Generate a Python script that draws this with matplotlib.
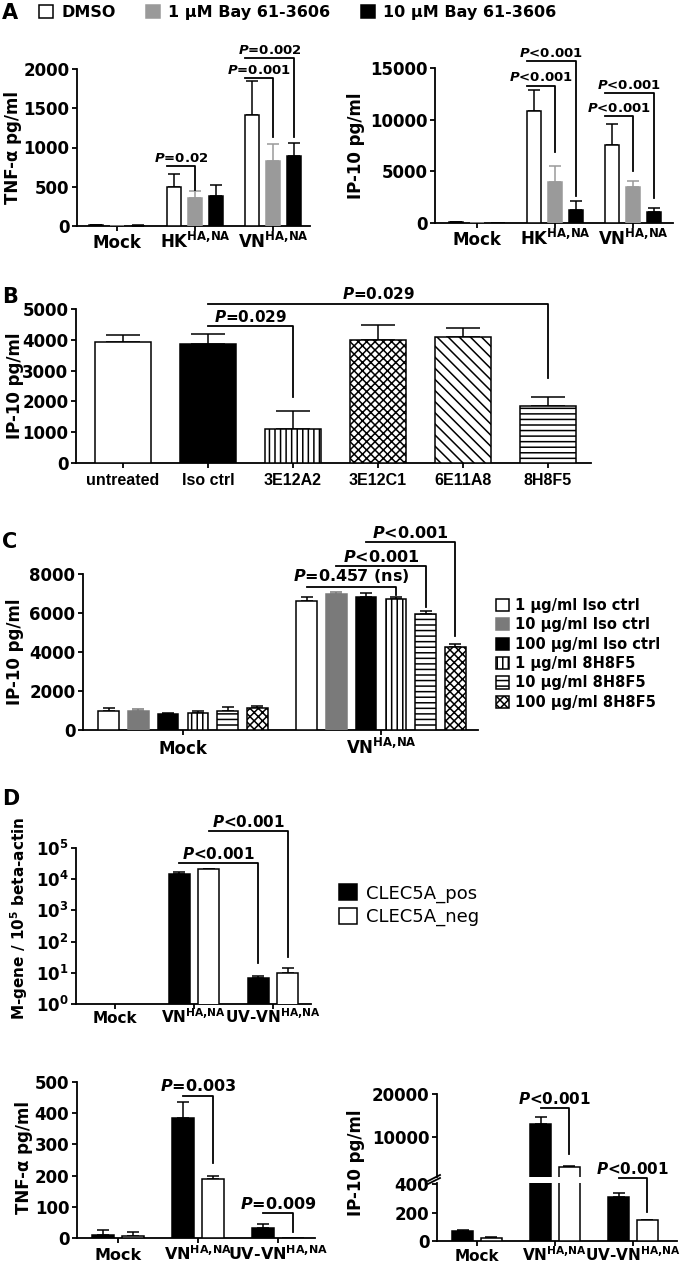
import numpy as np
import matplotlib
matplotlib.use('Agg')
import matplotlib.pyplot as plt
from matplotlib.patches import Patch
from matplotlib import font_manager

# ---- data ----
# A: TNF-alpha and IP-10, groups Mock / HK / VN
a_groups = ['Mock', r'HK$^{\mathrm{HA{,}NA}}$', r'VN$^{\mathrm{HA{,}NA}}$']
a_series = ['DMSO', '1 µM Bay 61-3606', '10 µM Bay 61-3606']
a_tnf = [[10, 495, 1415], [4, 355, 822], [5, 380, 890]]
a_tnf_sem = [[5, 165, 430], [2, 90, 223], [2, 145, 165]]
a_ip10 = [[100, 10870, 7580], [0, 3935, 3480], [0, 1225, 1065]]
a_ip10_sem = [[30, 1970, 2030], [0, 1615, 620], [0, 875, 385]]
# brackets: (group, series_from, series_to, y_line, y_drop, label)
a_tnf_p = [(1, 0, 1, 763, 453, '=0.02'), (2, 0, 1, 1886, 1131, '=0.001'),
           (2, 0, 2, 2136, 1131, '=0.002')]
a_ip10_p = [(1, 0, 1, 13290, 6840, '<0.001'), (1, 0, 2, 15650, 2650, '<0.001'),
            (2, 0, 1, 10320, 5000, '<0.001'), (2, 0, 2, 12580, 2420, '<0.001')]

# B: IP-10 with antibodies
b_cats = ['untreated', 'Iso ctrl', '3E12A2', '3E12C1', '6E11A8', '8H8F5']
b_vals = [3913, 3859, 1109, 4000, 4076, 1848]
b_sem = [250, 326, 576, 490, 304, 304]
b_p = [(1, 2, 4435, 2152, '=0.029'), (1, 5, 5174, 2750, '=0.029')]

# C: IP-10, antibody doses
c_groups = ['Mock', r'VN$^{\mathrm{HA{,}NA}}$']
c_series = ['1 µg/ml Iso ctrl', '10 µg/ml Iso ctrl', '100 µg/ml Iso ctrl',
            '1 µg/ml 8H8F5', '10 µg/ml 8H8F5', '100 µg/ml 8H8F5']
c_mock = [967, 967, 800, 867, 950, 1133]
c_mock_sem = [150, 116, 83, 116, 217, 100]
c_vn = [6620, 7000, 6830, 6725, 5930, 4240]
c_vn_sem = [210, 86, 205, 105, 170, 174]
c_p = [(0, 3, 7345, 6914, '=0.457 (ns)'), (1, 4, 8414, 6300, '<0.001'),
       (2, 5, 9620, 4800, '<0.001')]

# D: CLEC5A pos / neg cells
d_groups = ['Mock', r'VN$^{\mathrm{HA{,}NA}}$', r'UV-VN$^{\mathrm{HA{,}NA}}$']
d_series = ['CLEC5A_pos', 'CLEC5A_neg']
d_mgene_pos = [np.nan, 14800, 7.0]
d_mgene_pos_sem = [0, 1900, 1.1]
d_mgene_neg = [np.nan, 21000, 10]
d_mgene_neg_sem = [0, 500, 4.6]
d_mgene_p = [(1, 0, 2, 0, 32400, 20), (1, 1, 2, 1, 340000, 33)]
d_tnf_pos = [11, 385, 32]
d_tnf_pos_sem = [14, 50, 14]
d_tnf_neg = [5, 189, 0]
d_tnf_neg_sem = [15, 9, 0]
d_tnf_p = [(1, 456, 239, '=0.003'), (2, 80, 19, '=0.009')]
d_ip_pos = [71, 13080, 312]
d_ip_pos_sem = [9, 1690, 24]
d_ip_neg = [24, 3080, 147]
d_ip_neg_sem = [4, 250, 4]


def pick_font(names):
    for n in names:
        try:
            font_manager.findfont(font_manager.FontProperties(family=n),
                                  fallback_to_default=False)
            return n
        except Exception:
            pass
    return 'DejaVu Sans'


narrow = pick_font(['Liberation Sans Narrow', 'DejaVu Sans Condensed', 'Liberation Sans'])

plt.rcParams.update({
    'font.family': 'DejaVu Sans',
    'font.weight': 'bold',
    'axes.labelweight': 'bold',
    'axes.linewidth': 1.3,
    'hatch.linewidth': 1.1,
    'mathtext.fontset': 'dejavusans',
})

W, H = 680, 1263
fig = plt.figure(figsize=(W / 100, H / 100), dpi=100)
GREY_A = '#9a9a9a'
GREY_C = '#7a7a7a'
P = r'$\mathbfit{P}$'


def px_axes(box):
    l, t, r, b = box
    ax = fig.add_axes([l / W, 1 - b / H, (r - l) / W, (b - t) / H])
    ax.set_facecolor('none')
    return ax


def style(ax, box, c0, step):
    for s in ('top', 'right'):
        ax.spines[s].set_visible(False)
    ax.tick_params(direction='out', length=3.5, width=1.3, labelsize=12, pad=2)
    l, t, r, b = box
    ax.set_xlim((l - c0) / step, (r - c0) / step)


def xlabels(ax, ticks, labels, pad, fs=12):
    # baseline-aligned group names, so superscripts do not push the base down
    ax.set_xticks(ticks)
    ax.set_xticklabels(labels, fontsize=fs, va='baseline')
    ax.tick_params(axis='x', pad=pad)


def ylab(ax, text, box, px, py, fs=12):
    l, t, r, b = box
    ax.set_ylabel(text, fontsize=fs)
    ax.yaxis.set_label_coords((px - l) / (r - l), (b - py) / (b - t))


def bars(ax, x, vals, sems, width, face, edge='black', hatch=None, ecol='black', cap=4):
    x = np.asarray(x, float)
    vals = np.asarray(vals, float)
    sems = np.asarray(sems, float)
    ok = ~np.isnan(vals)
    ax.bar(x[ok], vals[ok], width, color=face, edgecolor=edge, linewidth=1.1,
           hatch=hatch, zorder=3)
    m = ok & (sems > 0)
    ax.errorbar(x[m], vals[m], yerr=[np.zeros(m.sum()), sems[m]], fmt='none',
                ecolor=ecol, elinewidth=1.1, capsize=cap, capthick=1.1, zorder=2)


def bracket(ax, x0, x1, yh, yd, text, fs):
    ax.plot([x0, x1, x1], [yh, yh, yd], color='black', lw=1.3, clip_on=False, zorder=5)
    ax.annotate(P + text, ((x0 + x1) / 2, yh), xytext=(0, 1), textcoords='offset points',
                ha='center', va='bottom', fontsize=fs, annotation_clip=False, zorder=6)


# ---------------- panel A ----------------
a_cols = [('white', 'black', 'black'), (GREY_A, GREY_A, GREY_A), ('black', 'black', 'black')]
a_w, a_off = 0.19, 0.27
xg = np.arange(3)
for box, vals, sems, pvals, ticks, lab, lpx, c0 in [
        ((77, 69, 310, 226), a_tnf, a_tnf_sem, a_tnf_p, [0, 500, 1000, 1500, 2000],
         'TNF-α pg/ml', 22, 117),
        ((435, 68, 673, 223), a_ip10, a_ip10_sem, a_ip10_p, [0, 5000, 10000, 15000],
         'IP-10 pg/ml', 365, 477)]:
    ax = px_axes(box)
    style(ax, box, c0, 78)
    for i in range(3):
        fc, ec, erc = a_cols[i]
        bars(ax, xg + (i - 1) * a_off, vals[i], sems[i], a_w, fc, ec, ecol=erc, cap=4.5)
    ax.set_ylim(ticks[0], ticks[-1])
    ax.set_yticks(ticks)
    xlabels(ax, xg, a_groups, 12.5)
    ylab(ax, lab, box, lpx, (box[1] + box[3]) / 2)
    for g, s0, s1, yh, yd, t in pvals:
        bracket(ax, g + (s0 - 1) * a_off - a_w / 2, g + (s1 - 1) * a_off, yh, yd, t, 9.5)

fig.legend([Patch(facecolor=f, edgecolor=e, linewidth=1.1) for f, e, _ in a_cols], a_series,
           loc='upper left', bbox_to_anchor=(39 / W, 1 - 5 / H), ncol=3, frameon=False,
           fontsize=11.5, handlelength=0.9, handleheight=0.9, handletextpad=0.5,
           columnspacing=1.9, borderaxespad=0, borderpad=0)

# ---------------- panel B ----------------
box = (76, 309, 591, 463)
ax = px_axes(box)
style(ax, box, 123, 85)
xb = np.arange(len(b_cats))
b_face = ['white', 'black', 'white', 'white', 'white', 'white']
b_hatch = [None, None, '|||', 'xxxx', '\\\\\\', '---']
for i in range(len(b_cats)):
    bars(ax, [xb[i]], [b_vals[i]], [b_sem[i]], 0.66, b_face[i], hatch=b_hatch[i], cap=12)
ax.set_ylim(0, 5000)
ax.set_yticks(range(0, 5001, 1000))
ax.set_xticks(xb)
ax.set_xticklabels(b_cats, fontfamily=narrow, fontsize=11.5)
ax.tick_params(axis='x', pad=4)
ylab(ax, 'IP-10 pg/ml', box, 24, 386)
for s0, s1, yh, yd, t in b_p:
    bracket(ax, xb[s0], xb[s1], yh, yd, t, 11)

# ---------------- panel C ----------------
box = (83, 574, 478, 730)
ax = px_axes(box)
style(ax, box, 183, 198)
c_style = [('white', 'black', None, 'black'), (GREY_C, GREY_C, None, GREY_C),
           ('black', 'black', None, 'black'), ('white', 'black', '|||', 'black'),
           ('white', 'black', '---', 'black'), ('white', 'black', 'xxxx', 'black')]
c_w, c_step = 0.104, 0.15
xc = np.arange(2)
for i in range(6):
    fc, ec, hh, erc = c_style[i]
    bars(ax, xc + (i - 2.5) * c_step, [c_mock[i], c_vn[i]], [c_mock_sem[i], c_vn_sem[i]],
         c_w, fc, ec, hatch=hh, ecol=erc, cap=4.5)
ax.set_ylim(0, 8000)
ax.set_yticks(range(0, 8001, 2000))
xlabels(ax, xc, c_groups, 13.5)
ylab(ax, 'IP-10 pg/ml', box, 24, 652)
for s0, s1, yh, yd, t in c_p:
    bracket(ax, 1 + (s0 - 2.5) * c_step, 1 + (s1 - 2.5) * c_step, yh, yd, t, 11.5)
fig.legend([Patch(facecolor=fc, edgecolor=ec, hatch=hh, linewidth=1.1)
            for fc, ec, hh, _ in c_style], c_series,
           loc='upper left', bbox_to_anchor=(496 / W, 1 - 598 / H), frameon=False,
           fontsize=10.5, handlelength=0.9, handleheight=0.9, handletextpad=0.4,
           labelspacing=0.3, borderaxespad=0, borderpad=0)

# ---------------- panel D ----------------
d_w, d_off = 0.27, 0.185
xd = np.arange(3)
d_cols = [('black', 'black'), ('white', 'black')]

box = (76, 848, 311, 1004)
ax = px_axes(box)
style(ax, box, 115, 79)
ax.set_yscale('log')
bars(ax, xd - d_off, d_mgene_pos, d_mgene_pos_sem, d_w, 'black', cap=4)
bars(ax, xd + d_off, d_mgene_neg, d_mgene_neg_sem, d_w, 'white', cap=4)
ax.set_ylim(1, 1e5)
ax.set_yticks([10 ** k for k in range(6)])
ax.set_yticklabels([r'$\mathbf{10^{%d}}$' % k for k in range(6)])
ax.yaxis.set_minor_locator(matplotlib.ticker.NullLocator())
xlabels(ax, xd, d_groups, 10.5, fs=11)
ylab(ax, r'M-gene / 10$^{\mathbf{5}}$ beta-actin', box, 30, 918, fs=11)
for g0, s0, g1, s1, yh, yd in d_mgene_p:
    x0 = g0 + (2 * s0 - 1) * d_off
    x1 = g1 + (2 * s1 - 1) * d_off
    bracket(ax, x0, x1, yh, yd, '<0.001', 11)
fig.legend([Patch(facecolor=f, edgecolor=e, linewidth=1.1) for f, e in d_cols], d_series,
           loc='upper left', bbox_to_anchor=(339 / W, 1 - 884 / H), frameon=False,
           prop={'weight': 'normal', 'size': 13}, handlelength=1.0, handleheight=1.0,
           handletextpad=0.5, labelspacing=0.3, borderaxespad=0, borderpad=0)

# D bottom left: TNF-alpha
box = (77, 1082, 315, 1238)
ax = px_axes(box)
style(ax, box, 118, 80)
bars(ax, xd - d_off, d_tnf_pos, d_tnf_pos_sem, d_w, 'black', cap=4.5)
bars(ax, xd + d_off, d_tnf_neg, d_tnf_neg_sem, d_w, 'white', cap=4.5)
ax.set_ylim(0, 500)
ax.set_yticks(range(0, 501, 100))
xlabels(ax, xd, d_groups, 12, fs=11.5)
ylab(ax, 'TNF-α pg/ml', box, 33, 1157)
for g, yh, yd, t in d_tnf_p:
    bracket(ax, g - d_off, g + d_off, yh, yd, t, 11.5)

# D bottom right: IP-10 with broken axis
box_lo = (437, 1183, 677, 1241)
box_hi = (437, 1094, 677, 1177)
ax_lo = px_axes(box_lo)
ax_hi = px_axes(box_hi)
for a, bx in ((ax_lo, box_lo), (ax_hi, box_hi)):
    style(a, bx, 477, 78)
    bars(a, xd - d_off, d_ip_pos, d_ip_pos_sem, d_w, 'black', cap=4.5)
    bars(a, xd + d_off, d_ip_neg, d_ip_neg_sem, d_w, 'white', cap=4.5)
ax_lo.set_ylim(0, 410)
ax_lo.set_yticks([0, 200, 400])
ax_hi.set_ylim(770, 20000)
ax_hi.set_yticks([10000, 20000])
ax_hi.spines['bottom'].set_visible(False)
ax_hi.tick_params(axis='x', bottom=False, labelbottom=False)
xlabels(ax_lo, xd, d_groups, 11, fs=11)
ylab(ax_lo, 'IP-10 pg/ml', box_lo, 365, 1163)
kw = dict(color='black', lw=1.3, clip_on=False)
ax_hi.plot([-9 / 240, 3 / 240], [-4 / 83, 2 / 83], transform=ax_hi.transAxes, **kw)
ax_lo.plot([-9 / 240, 3 / 240], [1 - 1 / 58, 1 + 5 / 58], transform=ax_lo.transAxes, **kw)
bracket(ax_hi, 1 - d_off, 1 + d_off, 16700, 6150, '<0.001', 11)
bracket(ax_lo, 2 - d_off, 2 + d_off, 443, 206, '<0.001', 11)

# panel letters
for letter, y in [('A', 3), ('B', 287), ('C', 532), ('D', 789)]:
    fig.text(2 / W, 1 - y / H, letter, fontsize=15, ha='left', va='top')

fig.savefig('out.png', dpi=100)
